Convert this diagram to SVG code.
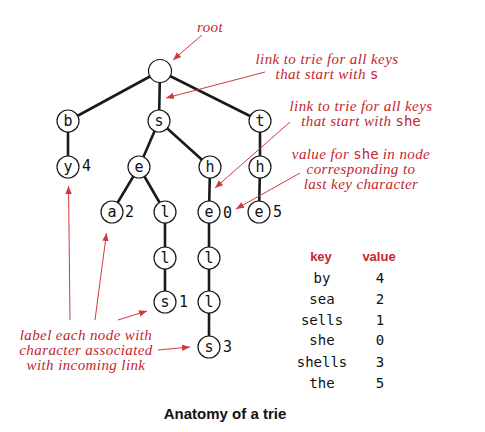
<svg xmlns="http://www.w3.org/2000/svg" width="485" height="432" viewBox="0 0 485 432">
<style>
.edge{stroke:#1a1a1a;stroke-width:2.6;fill:none}
.node circle{fill:#fff;stroke:#1a1a1a;stroke-width:1.2}
.node text{font-family:"DejaVu Sans Mono",monospace;font-size:15px;fill:#111;text-anchor:middle}
.val{font-family:"Liberation Sans",Arial,sans-serif;font-size:12.5px;fill:#c4262e}
.note{font-family:"Liberation Serif","Times New Roman",serif;font-style:italic;font-size:15px;letter-spacing:0.4px;fill:#c4262e;text-anchor:middle}
.note tspan.m{font-family:"DejaVu Sans Mono",monospace;font-style:normal;font-size:14px;letter-spacing:0}
.ann{stroke:#d0393f;stroke-width:1;fill:none;marker-end:url(#ah)}
.th{font-family:"Liberation Sans",Arial,sans-serif;font-weight:bold;font-size:13px;fill:#c4262e;text-anchor:middle}
.tk{font-family:"DejaVu Sans Mono",monospace;font-size:14px;fill:#111;text-anchor:middle}
.title{font-family:"Liberation Sans",Arial,sans-serif;font-weight:bold;font-size:15px;fill:#111;text-anchor:middle}
</style>
<defs>
<marker id="ah" viewBox="0 0 10 10" refX="10" refY="5" markerWidth="8" markerHeight="8" markerUnits="userSpaceOnUse" orient="auto">
<path d="M0,1 L10,5 L0,9 Z" fill="#d0393f"/>
</marker>
</defs>
<g id="edges">
<line class="edge" x1="160" y1="71" x2="68" y2="121"/>
<line class="edge" x1="160" y1="71" x2="159" y2="121"/>
<line class="edge" x1="160" y1="71" x2="260" y2="121"/>
<line class="edge" x1="68" y1="121" x2="68" y2="167"/>
<line class="edge" x1="159" y1="121" x2="139" y2="167"/>
<line class="edge" x1="159" y1="121" x2="210" y2="167"/>
<line class="edge" x1="260" y1="121" x2="260" y2="167"/>
<line class="edge" x1="139" y1="167" x2="112" y2="212"/>
<line class="edge" x1="139" y1="167" x2="165" y2="212"/>
<line class="edge" x1="210" y1="167" x2="209" y2="212"/>
<line class="edge" x1="260" y1="167" x2="259" y2="212"/>
<line class="edge" x1="165" y1="212" x2="165" y2="258"/>
<line class="edge" x1="165" y1="258" x2="165" y2="302"/>
<line class="edge" x1="209" y1="212" x2="209" y2="258"/>
<line class="edge" x1="209" y1="258" x2="209" y2="302"/>
<line class="edge" x1="209" y1="302" x2="209" y2="347"/>
</g>
<g id="n-root" class="node"><circle cx="160" cy="71" r="11.5"/></g>
<g id="n-b" class="node"><circle cx="68" cy="121" r="11"/><text x="68" y="126">b</text></g>
<g id="n-s" class="node"><circle cx="159" cy="121" r="11"/><text x="159" y="126">s</text></g>
<g id="n-t" class="node"><circle cx="260" cy="121" r="11"/><text x="260" y="126">t</text></g>
<g id="n-y" class="node"><circle cx="68" cy="167" r="11"/><text x="68" y="172">y</text><text class="val" x="82" y="171" style="text-anchor:start">4</text></g>
<g id="n-se" class="node"><circle cx="139" cy="167" r="11"/><text x="139" y="172">e</text></g>
<g id="n-sh" class="node"><circle cx="210" cy="167" r="11"/><text x="210" y="172">h</text></g>
<g id="n-th" class="node"><circle cx="260" cy="167" r="11"/><text x="260" y="172">h</text></g>
<g id="n-sea" class="node"><circle cx="112" cy="212" r="11"/><text x="112" y="217">a</text><text class="val" x="125" y="217" style="text-anchor:start">2</text></g>
<g id="n-sel" class="node"><circle cx="165" cy="212" r="11"/><text x="165" y="217">l</text></g>
<g id="n-she" class="node"><circle cx="209" cy="212" r="11"/><text x="209" y="217">e</text><text class="val" x="223" y="218" style="text-anchor:start">0</text></g>
<g id="n-the" class="node"><circle cx="259" cy="212" r="11"/><text x="259" y="217">e</text><text class="val" x="273" y="217" style="text-anchor:start">5</text></g>
<g id="n-sell" class="node"><circle cx="165" cy="258" r="11"/><text x="165" y="263">l</text></g>
<g id="n-shel" class="node"><circle cx="209" cy="258" r="11"/><text x="209" y="263">l</text></g>
<g id="n-sells" class="node"><circle cx="165" cy="302" r="11"/><text x="165" y="307">s</text><text class="val" x="179" y="307" style="text-anchor:start">1</text></g>
<g id="n-shell" class="node"><circle cx="209" cy="302" r="11"/><text x="209" y="307">l</text></g>
<g id="n-shells" class="node"><circle cx="209" cy="347" r="11"/><text x="209" y="352">s</text><text class="val" x="223" y="352" style="text-anchor:start">3</text></g>
<g id="annotations">
<line class="ann" x1="202" y1="35" x2="173" y2="60"/>
<line class="ann" x1="265" y1="72" x2="166" y2="98"/>
<line class="ann" x1="290" y1="122" x2="215" y2="188"/>
<line class="ann" x1="300" y1="173" x2="236" y2="209"/>
<line class="ann" x1="70" y1="320" x2="68.5" y2="186"/>
<line class="ann" x1="95" y1="320" x2="106.5" y2="233"/>
<line class="ann" x1="118" y1="320" x2="147" y2="311"/>
<line class="ann" x1="158" y1="350" x2="190" y2="347"/>
<text class="note" x="210" y="32">root</text>
<text class="note" x="327" y="64">link to trie for all keys</text>
<text class="note" x="327" y="79">that start with <tspan class="m">s</tspan></text>
<text class="note" x="361" y="111">link to trie for all keys</text>
<text class="note" x="361" y="126">that start with <tspan class="m">she</tspan></text>
<text class="note" x="361" y="159">value for <tspan class="m">she</tspan> in node</text>
<text class="note" x="361" y="174">corresponding to</text>
<text class="note" x="361" y="189">last key character</text>
<text class="note" x="86" y="340">label each node with</text>
<text class="note" x="86" y="355">character associated</text>
<text class="note" x="86" y="370">with incoming link</text>
</g>
<g id="table">
<text class="th" x="321" y="261">key</text>
<text class="th" x="379" y="261">value</text>
<text class="tk" x="322" y="283">by</text><text class="tk" x="380" y="283">4</text>
<text class="tk" x="322" y="304">sea</text><text class="tk" x="380" y="304">2</text>
<text class="tk" x="322" y="325">sells</text><text class="tk" x="380" y="325">1</text>
<text class="tk" x="322" y="345">she</text><text class="tk" x="380" y="345">0</text>
<text class="tk" x="322" y="367">shells</text><text class="tk" x="380" y="367">3</text>
<text class="tk" x="322" y="388">the</text><text class="tk" x="380" y="388">5</text>
</g>
<text class="title" x="225" y="419">Anatomy of a trie</text>
</svg>
